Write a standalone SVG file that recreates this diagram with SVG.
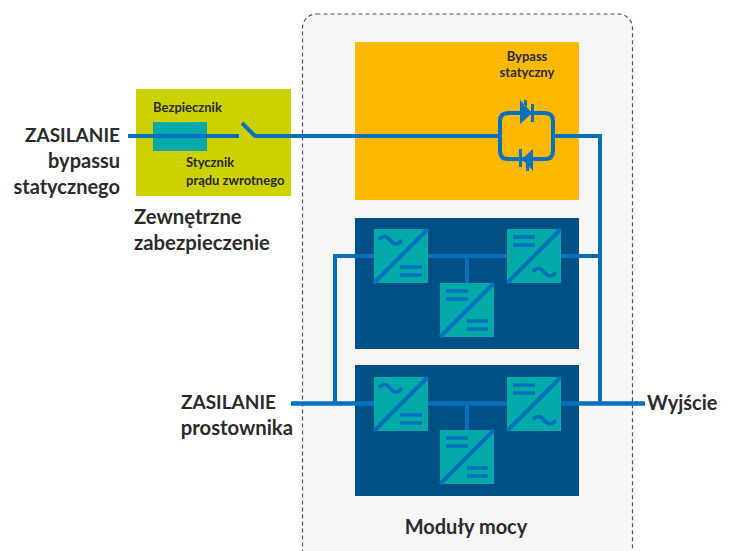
<svg xmlns="http://www.w3.org/2000/svg" width="732" height="551" viewBox="0 0 732 551">
<style>
text{font-family:"Lato","Noto Sans",sans-serif;fill:#2b2b2b}
.b{font-weight:700;font-size:20px}
.l{font-weight:700;font-size:20.300px}
.z{font-weight:700;font-size:19px}
.s{font-weight:700;font-size:13px}
.w{fill:none;stroke:#0570bd;stroke-width:4}
.t{fill:none;stroke:#0570bd;stroke-width:4.500}
.c{fill:#00aaa9}
.d{fill:none;stroke:#0570bd;stroke-width:4}
.e{fill:none;stroke:#0570bd;stroke-width:3.600}
.h{fill:#004f86}
</style>
<defs>
<g id="ac-dc">
<rect class="c" width="54" height="54"/>
<path class="d" d="M54 0L0 54"/>
<path class="e" d="M5 10.500C9 6 12.500 7 15 10S20 15.500 23 15 26 12.500 28 11.500"/>
<path class="e" d="M26 38H48M26 46H48"/>
</g>
<g id="dc-dc">
<rect class="c" width="54" height="54"/>
<path class="d" d="M54 0L0 54"/>
<path class="e" d="M6 8H28M6 16H28M27 38H48M27 46H48"/>
</g>
<g id="dc-ac">
<rect class="c" width="54" height="54"/>
<path class="d" d="M54 0L0 54"/>
<path class="e" d="M6 8H28M6 16H28"/>
<path class="e" d="M26 42.500C30 38 33.500 39 36 42S41 47.500 44 47 47 44.500 49 43.500"/>
</g>
</defs>
<rect width="732" height="551" fill="#fff"/>
<g id="panel"><rect x="302.500" y="14" width="330" height="600" rx="14" fill="#f6f6f6" stroke="#555" stroke-width="1.200" stroke-dasharray="4 3"/></g>
<g id="external"><rect x="136" y="89" width="155" height="107" fill="#cdd100"/><rect x="153" y="122" width="54" height="29" fill="#00aaa9"/></g>
<g id="bypass"><rect x="355" y="42" width="224" height="158" fill="#fcb900"/></g>
<g id="module1"><rect class="h" x="355" y="218" width="224" height="131"/></g>
<g id="module2"><rect class="h" x="355" y="365" width="224" height="131"/></g>
<g id="connectors">
<path class="w" d="M128 136H239M242 123L255 136H499M553 136H600V403M508 113H545Q553 113 553 121V151Q553 159 545 159H508Q500 159 500 151V121Q500 113 508 113Z"/>
<path class="w" d="M600 256H335V403"/>
<path class="t" d="M291 403.500H645"/>
<path class="w" d="M467 256V283M467 403.500V430"/>
<path fill="#0570bd" d="M520 100V124L532 113ZM531 104H534V122H531ZM524 100H527V106H524ZM533 149V171L522 159ZM519 149H522V167H519ZM526 163H529V171H526Z"/>
</g>
<g id="conv-1-1"><use href="#ac-dc" x="374" y="229"/></g>
<g id="conv-1-2"><use href="#dc-dc" x="440" y="283"/></g>
<g id="conv-1-3"><use href="#dc-ac" x="507" y="229"/></g>
<g id="conv-2-1"><use href="#ac-dc" x="374" y="377"/></g>
<g id="conv-2-2"><use href="#dc-dc" x="440" y="430"/></g>
<g id="conv-2-3"><use href="#dc-ac" x="507" y="377"/></g>
<g id="labels">
<text class="s" x="153" y="112">Bezpiecznik</text>
<text class="s" x="186" y="167">Stycznik</text>
<text class="s" x="186" y="185">prądu zwrotnego</text>
<text class="s" x="527" y="61" text-anchor="middle">Bypass</text>
<text class="s" x="527" y="77" text-anchor="middle">statyczny</text>
<text class="z" x="120" y="142" text-anchor="end">ZASILANIE</text>
<text class="b" x="120" y="168" text-anchor="end">bypassu</text>
<text class="b" x="120" y="194" text-anchor="end">statycznego</text>
<text class="l" x="134" y="224">Zewnętrzne</text>
<text class="l" x="134" y="250">zabezpieczenie</text>
<text class="z" x="276" y="409" text-anchor="end">ZASILANIE</text>
<text class="l" x="293" y="435" text-anchor="end">prostownika</text>
<text class="b" x="647" y="410">Wyjście</text>
<text class="b" x="466" y="534" text-anchor="middle">Moduły mocy</text>
</g>
</svg>
